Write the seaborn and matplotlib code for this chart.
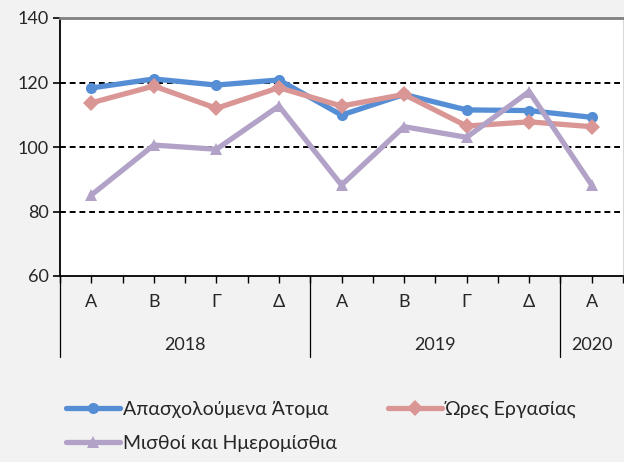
import pandas as pd
import matplotlib.pyplot as plt
import matplotlib.transforms as mtransforms
import seaborn as sns

# data
quarters = ['Α', 'Β', 'Γ', 'Δ', 'Α', 'Β', 'Γ', 'Δ', 'Α']
years = ['2018', '2019', '2020']
year_spans = [(0, 3), (4, 7), (8, 8)]
series_names = ['Απασχολούμενα Άτομα', 'Ώρες Εργασίας', 'Μισθοί και Ημερομίσθια']
employed = [118.3, 121.1, 119.2, 120.8, 109.9, 116.3, 111.5, 111.3, 109.2]
hours = [113.7, 118.9, 112.0, 118.4, 112.7, 116.3, 106.5, 107.8, 106.3]
wages = [85.1, 100.6, 99.3, 112.7, 88.2, 106.3, 103.0, 117.2, 88.2]

colors = ['#558ED5', '#D99694', '#B3A2C7']
markers = ['o', 'D', '^']

rows = []
for name, vals in zip(series_names, [employed, hours, wages]):
    for i, v in enumerate(vals):
        rows.append({'pos': i, 'value': v, 'series': name})
df = pd.DataFrame(rows)

sns.set_style('white')
plt.rcParams['font.family'] = ['Lato', 'DejaVu Sans']

fig = plt.figure(figsize=(6.24, 4.62), dpi=100, facecolor='#F2F2F2')
ax = fig.add_axes([60 / 624, 186 / 462, 563 / 624, 258 / 462])
ax.set_facecolor('white')

sns.lineplot(data=df, x='pos', y='value', hue='series', style='series',
             hue_order=series_names, style_order=series_names,
             palette=colors, markers=markers, dashes=False,
             linewidth=3.8, markersize=8, markeredgewidth=0, ax=ax,
             legend=False)

# gridlines
for g in [80, 100, 120]:
    ax.axhline(g, color='black', linestyle=(0, (3, 2)), linewidth=1.4, zorder=0)

ax.set_ylim(60, 140)
ax.set_xlim(-0.5, 8.5)
ax.set_yticks([60, 80, 100, 120, 140])
ax.set_xticks(range(len(quarters)))
ax.set_xticklabels(quarters)
ax.set_xticks([i + 0.5 for i in range(-1, 9)], minor=True)
ax.set_xlabel('')
ax.set_ylabel('')

ax.tick_params(axis='y', length=5, width=1.2, direction='out', pad=3,
               labelsize=13, color='black', left=True)
ax.tick_params(axis='x', which='both', length=5, width=1, direction='out',
               pad=8, labelsize=13, color='black', bottom=True)

for side in ['left', 'bottom']:
    ax.spines[side].set_color('black')
    ax.spines[side].set_linewidth(1.3)
ax.spines['top'].set_color('#808080')
ax.spines['top'].set_linewidth(2)
ax.spines['right'].set_color('#D9D9D9')

# year level of the category axis
trans = mtransforms.blended_transform_factory(ax.transData, ax.transAxes)
for x in [-0.5, 3.5, 7.5]:
    ax.plot([x, x], [0, -0.315], color='black', linewidth=0.9,
            transform=trans, clip_on=False)
for year, (a, b) in zip(years, year_spans):
    ax.text((a + b) / 2, -0.267, year, transform=trans, ha='center',
            va='center', fontsize=13)

# legend: two columns, filled column-wise
handles = [plt.Line2D([], [], color=c, marker=m, linewidth=3.8, markersize=8,
                      markeredgewidth=0) for c, m in zip(colors, markers)]
order = [0, 2, 1]
fig.legend([handles[i] for i in order], [series_names[i] for i in order],
           loc='upper left', bbox_to_anchor=(56 / 624, 1 - 391 / 462),
           ncol=2, frameon=False, fontsize=14, handlelength=2.8,
           handletextpad=0.15, columnspacing=2.6, labelspacing=0.9,
           borderpad=0)

fig.savefig('out.png', dpi=100, facecolor=fig.get_facecolor())
